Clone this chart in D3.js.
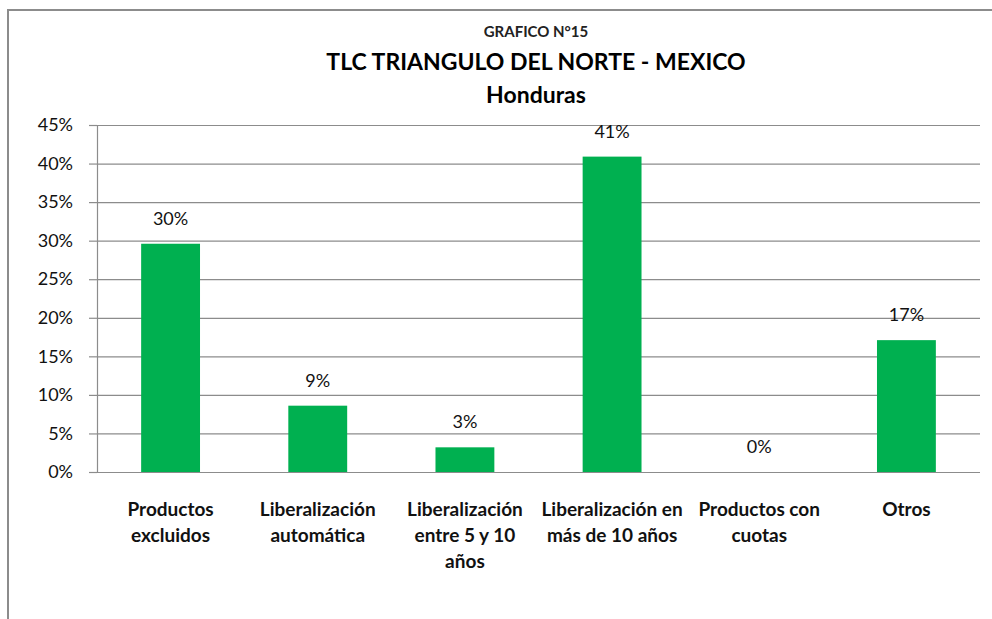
<!DOCTYPE html>
<html>
<head>
<meta charset="utf-8">
<script src="https://cdn.jsdelivr.net/npm/d3@7"></script>
<style>
  html, body { margin: 0; padding: 0; background: #ffffff; }
  svg { display: block; font-family: Lato, "Open Sans", sans-serif; }
</style>
</head>
<body>
<svg id="chart" width="992" height="619"></svg>
<script>
const categories = [
  "Productos\nexcluidos",
  "Liberalización\nautomática",
  "Liberalización\nentre 5 y 10\naños",
  "Liberalización en\nmás de 10 años",
  "Productos con\ncuotas",
  "Otros"
];
const values = [0.296, 0.086, 0.032, 0.409, 0.0, 0.171];
const valueLabels = ["30%", "9%", "3%", "41%", "0%", "17%"];
const yTicks = [0, 0.05, 0.10, 0.15, 0.20, 0.25, 0.30, 0.35, 0.40, 0.45];
const titleLines = ["GRAFICO N°15", "TLC TRIANGULO DEL NORTE - MEXICO", "Honduras"];

const svg = d3.select("#chart");
const margin = { left: 97, right: 12, top: 125, bottom: 147 };
const W = 992, H = 619;
const plotW = W - margin.left - margin.right; // 883
const plotH = H - margin.top - margin.bottom; // 347

// frame
svg.append("path")
  .attr("d", `M8,619 L8,10 L992,10`)
  .attr("fill", "none")
  .attr("stroke", "#8c8c8c")
  .attr("stroke-width", 2);

// titles
const titleX = 536;
svg.append("text").attr("x", titleX).attr("y", 37).attr("text-anchor", "middle")
  .attr("font-size", 15).attr("font-weight", 700).attr("fill", "#222").text(titleLines[0]);
svg.append("text").attr("x", titleX).attr("y", 70).attr("text-anchor", "middle")
  .attr("font-size", 23).attr("font-weight", 700).attr("fill", "#000").text(titleLines[1]);
svg.append("text").attr("x", titleX).attr("y", 103).attr("text-anchor", "middle")
  .attr("font-size", 23).attr("font-weight", 700).attr("fill", "#000").text(titleLines[2]);

const g = svg.append("g").attr("transform", `translate(${margin.left},${margin.top})`);

const x = d3.scaleBand().domain(d3.range(categories.length)).range([0, plotW]).paddingInner(0.6).paddingOuter(0.3);
const y = d3.scaleLinear().domain([0, 0.45]).range([plotH, 0]);

// gridlines
g.append("g")
  .call(d3.axisLeft(y).tickValues(yTicks).tickSize(-plotW).tickFormat(""))
  .call(s => s.select(".domain").remove())
  .call(s => s.selectAll("line").attr("stroke", "#8c8c8c").attr("stroke-width", 1.2));

// y axis with outer ticks
g.append("g")
  .call(d3.axisLeft(y).tickValues(yTicks).tickSize(8).tickPadding(16).tickFormat(d3.format(".0%")))
  .call(s => s.select(".domain").attr("stroke", "#8c8c8c").attr("stroke-width", 1.2))
  .call(s => s.selectAll("line").attr("stroke", "#8c8c8c").attr("stroke-width", 1.2))
  .call(s => s.selectAll("text").attr("font-size", 18).attr("fill", "#111").attr("font-family", "Lato, sans-serif"));

// bars
g.selectAll("rect.bar").data(values).join("rect")
  .attr("class", "bar")
  .attr("x", (d, i) => x(i))
  .attr("width", x.bandwidth())
  .attr("y", d => y(d))
  .attr("height", d => plotH - y(d))
  .attr("fill", "#00b050");

// value labels
g.selectAll("text.val").data(values).join("text")
  .attr("class", "val")
  .attr("x", (d, i) => x(i) + x.bandwidth() / 2)
  .attr("y", d => y(d) - 19)
  .attr("text-anchor", "middle")
  .attr("font-size", 18)
  .attr("fill", "#111")
  .text((d, i) => valueLabels[i]);

// category labels
const catG = g.selectAll("text.cat").data(categories).join("text")
  .attr("class", "cat")
  .attr("text-anchor", "middle")
  .attr("font-size", 19)
  .attr("font-weight", 700)
  .attr("fill", "#111")
  .attr("transform", (d, i) => `translate(${x(i) + x.bandwidth() / 2},${plotH + 44})`);
catG.each(function(d) {
  const t = d3.select(this);
  d.split("\n").forEach((line, k) => {
    t.append("tspan").attr("x", 0).attr("dy", k === 0 ? 0 : 26).text(line);
  });
});
</script>
</body>
</html>
